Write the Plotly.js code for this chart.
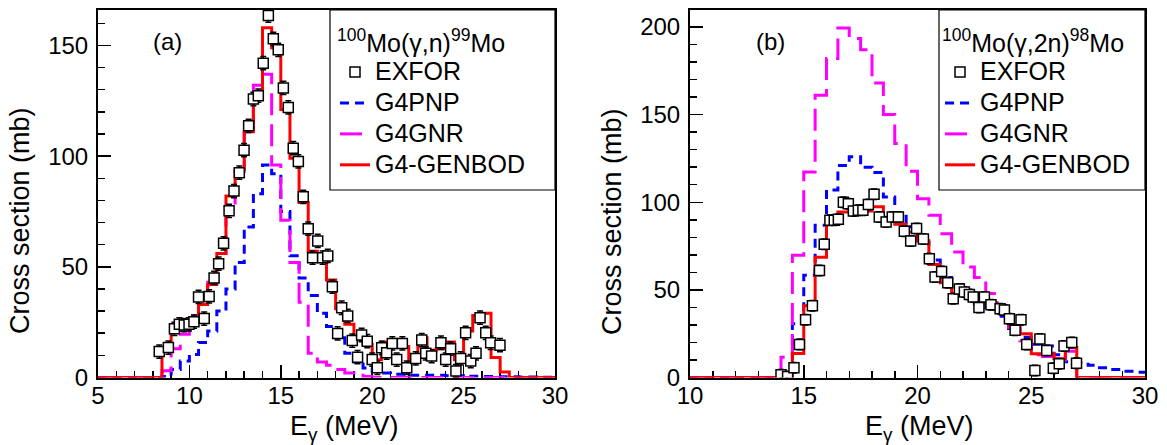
<!DOCTYPE html>
<html><head><meta charset="utf-8">
<script src="https://cdn.plot.ly/plotly-3.0.1.min.js"></script>
<style>html,body{margin:0;padding:0;background:#fff}#chart{width:1167px;height:445px}</style>
</head><body><div id="chart"></div>
<script>
// ---------------- DATA ----------------
const binWidth = 0.5;
const binStartA = 5;   // panel (a) histograms: 50 bins 5..30 MeV
const binStartB = 10;  // panel (b) histograms: 40 bins 10..30 MeV

// (a) 100Mo(γ,n)99Mo
const pnpA = [0,0,0,0,0,0,0, 0.5,3.6,7.4,10.4,15.8,21,30,40,52,68,83,96,92,75,55,45,37,29,23,18,11,7,4.3,2.8,2,1.5,1.5,1,1,1,1,0.8,0.8,0.6,0.6,0.5,0.5,0.3,0.3,0.2,0.2,0.1,0.1];
const gnrA = [0,0,0,0,0,0,0, 3,13,19.5,28,35,43,56,77,93,111,132,137,96,71,52,34,11,7,5.5,3.6,2,1,0.5, 0,0,0,0,0,0,0,0,0,0,0,0,0,0,0,0,0,0,0,0];
const genbodA = [0,0,0,0,0,0,0, 12,23,25,27,33,42,56,82,94,111,127,158,149,121,99,79,57,55,44,31,24,17,15,8,16,16,14,7,18,12,13,16,8,21,28,29,9,2.5, 0,0,0,0,0];
const exforA_E  = [8.35,8.85,9.18,9.45,9.72,9.98,10.25,10.5,10.81,11.08,11.35,11.6,11.87,12.17,12.44,12.73,12.99,13.24,13.5,13.77,14.04,14.32,14.59,14.86,15.14,15.41,15.68,15.96,16.23,16.5,16.74,17.02,17.29,17.57,17.82,18.11,18.33,18.66,18.91,19.2,19.42,19.73,20.0,20.28,20.52,20.79,21.1,21.34,21.65,21.89,22.38,22.71,22.93,23.25,23.76,24.02,24.29,24.58,24.84,25.11,25.39,25.68,25.9,26.21,26.48,26.99];
const exforA_xs = [11.7,13.5,22,24,23.7,24,25.2,36.4,26.6,36.6,45,51.4,60.6,75.3,84.2,92.5,102.7,113.7,125.8,127.3,142,163.5,153,148,130.8,122,103.6,97.6,81.6,67.2,54.1,61.7,54.1,54.9,41,19.9,31.5,27.8,16.7,9.2,19.2,16.4,8.1,4.4,13.4,11.2,15.4,8.1,15.4,4.4,8.6,16.9,10.9,9.7,15.7,8.1,13,2.9,8.6,20.2,7.4,10.9,27,20.2,15.7,14.6];
const exforA_err = 3;

// (b) 100Mo(γ,2n)98Mo
const pnpB = [0,0,0,0,0,0,0,0, 0.5,30.7,58.3,86.9,107,121,126,120,117,103,94,86,77,67,57,53,47,42,39,35,28,23,19,18,13,9,8.5,7,5.5,4.5,3.5,3];
const gnrB = [0,0,0,0,0,0,0,0, 11.6,69.7,117.3,161,182,199.5,193.5,187,168,150,133.5,117.7,102,92.6,82,71.6,63,57,48,38,28.7,21,13,12,10,15, 0,0,0,0,0,0];
const genbodB = [0,0,0,0,0,0,0,0,0, 13.7,41,68.6,90.5,94.5,95,95,97.5,91,87.5,83,78,64.5,54,48,47,45,42,39,30,25,13.5,13.5,10.7,17.3, 0,0,0,0,0,0];
const exforB_E  = [14.0,14.29,14.57,14.81,15.08,15.38,15.69,15.9,16.15,16.34,16.52,16.74,16.96,17.18,17.4,17.6,17.84,18.09,18.32,18.62,18.89,19.16,19.42,19.7,19.96,20.26,20.52,20.77,21.06,21.33,21.57,21.84,22.06,22.28,22.45,22.7,22.94,23.23,23.63,23.82,24.04,24.29,24.55,24.8,25.16,25.38,25.68,25.97,26.23,26.44,26.78,26.99];
const exforB_xs = [1.5,0.6,5.5,18.9,33,41,61,76,89.7,89.7,90.3,100,99.2,95,95.5,95.5,98.7,104.6,91.6,88.8,91.6,91.6,83.4,77.9,85,79,67.8,57.3,60.5,54,45,50.5,48.8,47.4,46,40,45.9,41.5,39.2,38.5,33.5,26.9,33,18.9,4,22,15.4,5.3,7.8,18,20,8.2];
const exforB_err = 3;

const headerA = '<sup>100</sup>Mo(γ,n)<sup>99</sup>Mo';
const headerB = '<sup>100</sup>Mo(γ,2n)<sup>98</sup>Mo';
const seriesNames = ['EXFOR','G4PNP','G4GNR','G4-GENBOD'];

// ---------------- BUILD ----------------
const W = 1167, H = 445;
const FONT = 'Liberation Sans, Arial, Helvetica, sans-serif';
const fx = p => p / W, fy = p => 1 - p / H;
const big = s => '<span style="font-size:25px">' + s + '</span>';

function edges(start, n) { return Array.from({length: n + 1}, (_, i) => start + i * binWidth); }
function hist(start, vals, name, color, dash, xa, ya, leg, rank) {
  return {
    type: 'scatter', mode: 'lines', name: big(name), x: edges(start, vals.length), y: vals.concat([vals[vals.length - 1]]),
    line: {shape: 'hv', color: color, width: 3, dash: dash}, xaxis: xa, yaxis: ya, legend: leg, legendrank: rank,
    hoverinfo: 'skip'
  };
}
function pts(E, xs, err, xa, ya, leg) {
  return {
    type: 'scatter', mode: 'markers', name: big(seriesNames[0]), x: E, y: xs,
    error_y: {type: 'constant', value: err, color: 'black', thickness: 1.5, width: 3},
    marker: {symbol: 'square', size: 10, color: 'white', line: {color: 'black', width: 1.5}},
    xaxis: xa, yaxis: ya, legend: leg, legendrank: 1, cliponaxis: true
  };
}
const BLUE_DASH = '9px,6px', MAG_DASH = '22px,9px';
const traces = [
  hist(binStartA, pnpA, seriesNames[1], '#0000ff', BLUE_DASH, 'x', 'y', 'legend', 2),
  hist(binStartA, gnrA, seriesNames[2], '#ff00ff', MAG_DASH, 'x', 'y', 'legend', 3),
  hist(binStartA, genbodA, seriesNames[3], '#ff0000', 'solid', 'x', 'y', 'legend', 4),
  pts(exforA_E, exforA_xs, exforA_err, 'x', 'y', 'legend'),
  hist(binStartB, pnpB, seriesNames[1], '#0000ff', BLUE_DASH, 'x2', 'y2', 'legend2', 2),
  hist(binStartB, gnrB, seriesNames[2], '#ff00ff', MAG_DASH, 'x2', 'y2', 'legend2', 3),
  hist(binStartB, genbodB, seriesNames[3], '#ff0000', 'solid', 'x2', 'y2', 'legend2', 4),
  pts(exforB_E, exforB_xs, exforB_err, 'x2', 'y2', 'legend2')
];

function axis(extra) {
  return Object.assign({
    showline: true, linecolor: 'black', linewidth: 2, mirror: true,
    ticks: 'inside', ticklen: 13, tickwidth: 1.5, tickcolor: 'black',
    showgrid: false, zeroline: false, layer: 'below traces', fixedrange: true,
    tickfont: {size: 24, color: 'black', family: FONT}
  }, extra);
}
const minorX = {ticks: 'inside', ticklen: 7, tickwidth: 1.5, tickcolor: 'black', dtick: 1};
const minorY = {ticks: 'inside', ticklen: 7, tickwidth: 1.5, tickcolor: 'black', dtick: 10};
const yDom = [fy(377.5), fy(10)];
const legendStyle = (x) => ({
  x: x, y: fy(19), xanchor: 'left', yanchor: 'top', bgcolor: 'rgba(0,0,0,0)', borderwidth: 0,
  font: {size: 21.5, color: 'black', family: FONT}, itemwidth: 30, tracegroupgap: 0
});
const legA = legendStyle(fx(335)); legA.title = {text: headerA, font: {size: 25, color: 'black', family: FONT}};
const legB = legendStyle(fx(940)); legB.title = {text: headerB, font: {size: 25, color: 'black', family: FONT}};

const ann = (text, px, py, extra) => Object.assign({text: text, xref: 'paper', yref: 'paper', x: fx(px), y: fy(py),
  xanchor: 'center', yanchor: 'middle', showarrow: false, font: {size: 24, color: 'black', family: FONT}}, extra || {});

const layout = {
  width: W, height: H, margin: {l: 0, r: 0, t: 0, b: 0},
  paper_bgcolor: 'white', plot_bgcolor: 'white', showlegend: true,
  font: {family: FONT, color: 'black'},
  xaxis: axis({domain: [fx(98), fx(555)], range: [5, 30], dtick: 5, tick0: 0, anchor: 'y', minor: minorX, ticklabelstandoff: -4}),
  yaxis: axis({domain: yDom, range: [0, 166], dtick: 50, tick0: 0, anchor: 'x', minor: minorY, ticklabelstandoff: 3}),
  xaxis2: axis({domain: [fx(690), fx(1145)], range: [10, 30], dtick: 5, tick0: 0, anchor: 'y2', minor: minorX, ticklabelstandoff: -4}),
  yaxis2: axis({domain: yDom, range: [0, 209.7], dtick: 50, tick0: 0, anchor: 'x2', minor: minorY, ticklabelstandoff: 3}),
  legend: legA, legend2: legB,
  shapes: [
    {type: 'rect', xref: 'paper', yref: 'paper', x0: fx(330), x1: fx(555), y0: fy(190), y1: fy(10), line: {color: 'black', width: 1.2}, layer: 'above'},
    {type: 'rect', xref: 'paper', yref: 'paper', x0: fx(939), x1: fx(1145), y0: fy(190), y1: fy(10), line: {color: 'black', width: 1.2}, layer: 'above'}
  ],
  annotations: [
    ann('(a)', 167, 42),
    ann('(b)', 770, 42),
    ann('Cross section (mb)', 20, 221, {textangle: -90, font: {size: 27, color: 'black', family: FONT}}),
    ann('Cross section (mb)', 612, 222, {textangle: -90, font: {size: 27, color: 'black', family: FONT}}),
    ann('E<sub>γ</sub> (MeV)', 344, 428, {font: {size: 27, color: 'black', family: FONT}}),
    ann('E<sub>γ</sub> (MeV)', 919, 428, {font: {size: 27, color: 'black', family: FONT}})
  ]
};
Plotly.newPlot('chart', traces, layout, {staticPlot: true, displayModeBar: false});
</script>
</body></html>
